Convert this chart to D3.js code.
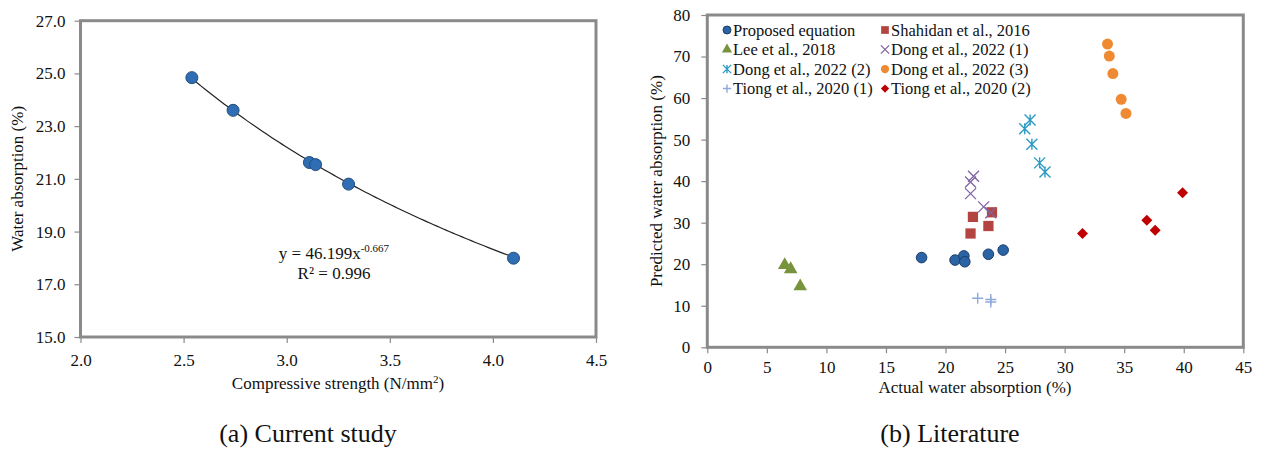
<!DOCTYPE html>
<html>
<head>
<meta charset="utf-8">
<script src="https://cdn.jsdelivr.net/npm/d3@7/dist/d3.min.js"></script>
<style>
  html, body { margin: 0; padding: 0; background: #fff; }
  svg { display: block; }
</style>
</head>
<body>
<svg id="chart" width="1264" height="449"></svg>
<script>
// ---------- Data: (a) Current study ----------
const leftStrength   = [2.54, 2.74, 3.11, 3.14, 3.30, 4.10];
const leftAbsorption = [24.84, 23.60, 21.62, 21.54, 20.80, 17.99];
const trendCoef = 46.199, trendExp = -0.667, trendR2 = 0.996;
const leftYTicks = [15, 17, 19, 21, 23, 25, 27];
const leftXTicks = [2.0, 2.5, 3.0, 3.5, 4.0, 4.5];

// ---------- Data: (b) Literature ----------
const proposedX = [17.99, 20.80, 21.54, 21.62, 23.60, 24.84];
const proposedY = [21.6, 21.0, 22.0, 20.6, 22.4, 23.4];
const shahidanX = [22.3, 23.6, 23.9, 22.1];
const shahidanY = [31.4, 29.2, 32.5, 27.4];
const leeX = [6.5, 7.0, 7.8];
const leeY = [19.8, 18.8, 14.7];
const dong1X = [22.35, 22.1, 22.1, 23.2, 23.8];
const dong1Y = [41.2, 39.8, 37.0, 33.8, 32.4];
const dong2X = [27.1, 26.65, 27.25, 27.9, 28.35];
const dong2Y = [54.7, 52.6, 48.9, 44.4, 42.2];
const dong3X = [33.6, 33.75, 34.05, 34.75, 35.15];
const dong3Y = [73.0, 70.1, 65.9, 59.7, 56.3];
const tiong1X = [22.7, 23.8, 23.8];
const tiong1Y = [11.8, 11.5, 10.9];
const tiong2X = [31.5, 36.9, 37.6, 39.9];
const tiong2Y = [27.4, 30.6, 28.2, 37.2];
const rightYTicks = [0, 10, 20, 30, 40, 50, 60, 70, 80];
const rightXTicks = [0, 5, 10, 15, 20, 25, 30, 35, 40, 45];

const seriesNames = ["Proposed equation", "Shahidan et al., 2016", "Lee et al., 2018",
  "Dong et al., 2022 (1)", "Dong et al., 2022 (2)", "Dong et al., 2022 (3)",
  "Tiong et al., 2020 (1)", "Tiong et al., 2020 (2)"];

const svg = d3.select("#chart");
const FRAME = "#8a8a8a";
const FONT = "Liberation Serif";
const TXT = "#111";

function txt(g, x, y, size, anchor) {
  return g.append("text").attr("x", x).attr("y", y)
    .attr("text-anchor", anchor || "start")
    .style("font-family", FONT).style("font-size", size + "px").style("fill", TXT);
}

// ---------- helper: marker drawing ----------
function drawMarker(g, type, x, y, s) {
  switch (type) {
    case "circleBlue":
      g.append("circle").attr("cx", x).attr("cy", y).attr("r", 5.3 * s)
        .attr("fill", "#2c63a4").attr("stroke", "#1b3e6a").attr("stroke-width", 1); break;
    case "square":
      g.append("path").attr("transform", `translate(${x},${y})`)
        .attr("d", d3.symbol(d3.symbolSquare, 105 * s * s)()).attr("fill", "#b3443f"); break;
    case "triangle":
      g.append("path").attr("transform", `translate(${x},${y})`)
        .attr("d", d3.symbol(d3.symbolTriangle, 80 * s * s)()).attr("fill", "#77933c"); break;
    case "xmark": {
      const r = 5.5 * s;
      g.append("path").attr("d", `M${x - r},${y - r}L${x + r},${y + r}M${x - r},${y + r}L${x + r},${y - r}`)
        .attr("stroke", "#8064a2").attr("stroke-width", 1.3).attr("fill", "none"); break; }
    case "star": {
      const r = 5.5 * s;
      g.append("path").attr("d", `M${x - r},${y - r}L${x + r},${y + r}M${x - r},${y + r}L${x + r},${y - r}M${x},${y - r}L${x},${y + r}`)
        .attr("stroke", "#2c9ac4").attr("stroke-width", 1.4).attr("fill", "none"); break; }
    case "circleOrange":
      g.append("circle").attr("cx", x).attr("cy", y).attr("r", 5.5 * s).attr("fill", "#ef8a33"); break;
    case "plus": {
      const r = 5.5 * s;
      g.append("path").attr("d", `M${x - r},${y}L${x + r},${y}M${x},${y - r}L${x},${y + r}`)
        .attr("stroke", "#8eaadc").attr("stroke-width", 1.4).attr("fill", "none"); break; }
    case "diamond": {
      const r = 5.5 * s;
      g.append("path").attr("d", `M${x},${y - r}L${x + r},${y}L${x},${y + r}L${x - r},${y}Z`)
        .attr("fill", "#c00000"); break; }
  }
}

function styleAxis(g) {
  g.select(".domain").remove();
  g.selectAll(".tick line").attr("stroke", FRAME).attr("stroke-width", 1.2);
  g.selectAll(".tick text").style("font-family", FONT).style("font-size", "17px").style("fill", TXT);
}

// ================= (a) Current study =================
const xL = d3.scaleLinear().domain([2, 4.5]).range([80.5, 596]);
const yL = d3.scaleLinear().domain([15, 27]).range([337, 20.7]);

const gL = svg.append("g");
gL.append("g").attr("transform", "translate(80.5,0)")
  .call(d3.axisLeft(yL).tickValues(leftYTicks).tickFormat(d3.format(".1f")).tickSize(6).tickPadding(9))
  .call(styleAxis);
gL.append("g").attr("transform", "translate(0,337)")
  .call(d3.axisBottom(xL).tickValues(leftXTicks).tickFormat(d3.format(".1f")).tickSize(6).tickPadding(11))
  .call(styleAxis);
gL.append("rect").attr("x", 80.5).attr("y", 20.7).attr("width", 596 - 80.5).attr("height", 337 - 20.7)
  .attr("fill", "none").attr("stroke", FRAME).attr("stroke-width", 3);

// trendline of the displayed power-law fit, over the data range
const tMin = d3.min(leftStrength), tMax = d3.max(leftStrength);
const trendPts = d3.range(0, 101).map(i => {
  const xv = tMin + (tMax - tMin) * i / 100;
  return [xv, trendCoef * Math.pow(xv, trendExp)];
});
gL.append("path").datum(trendPts)
  .attr("d", d3.line().x(d => xL(d[0])).y(d => yL(d[1])))
  .attr("fill", "none").attr("stroke", "#222").attr("stroke-width", 1.2);

gL.selectAll("circle.pt").data(leftStrength.map((v, i) => [v, leftAbsorption[i]])).join("circle")
  .attr("class", "pt").attr("cx", d => xL(d[0])).attr("cy", d => yL(d[1])).attr("r", 6)
  .attr("fill", "#2f6db5").attr("stroke", "#1f4e79").attr("stroke-width", 1);

const eq = txt(gL, 334, 259, 17, "middle");
eq.append("tspan").text("y = " + trendCoef.toFixed(3) + "x");
eq.append("tspan").attr("dy", -7).style("font-size", "11px").text(trendExp.toFixed(3));
txt(gL, 334, 279, 17, "middle").text("R\u00B2 = " + trendR2.toFixed(3));

const xtL = txt(gL, 338, 389, 17, "middle");
xtL.append("tspan").text("Compressive strength (N/mm");
xtL.append("tspan").attr("dy", -6).style("font-size", "11px").text("2");
xtL.append("tspan").attr("dy", 6).text(")");

txt(gL, 0, 0, 17, "middle").attr("transform", `translate(23,${(20.7 + 337) / 2}) rotate(-90)`)
  .text("Water absorption (%)");

txt(gL, 308, 442, 26, "middle").text("(a) Current study");

// ================= (b) Literature =================
const xR = d3.scaleLinear().domain([0, 45]).range([707.3, 1243.3]);
const yR = d3.scaleLinear().domain([0, 80]).range([347.3, 15]);

const gR = svg.append("g");
gR.append("g").attr("transform", "translate(707.3,0)")
  .call(d3.axisLeft(yR).tickValues(rightYTicks).tickFormat(d3.format("d")).tickSize(6).tickPadding(11))
  .call(styleAxis);
gR.append("g").attr("transform", "translate(0,347.3)")
  .call(d3.axisBottom(xR).tickValues(rightXTicks).tickFormat(d3.format("d")).tickSize(6).tickPadding(8))
  .call(styleAxis);
gR.append("rect").attr("x", 707.3).attr("y", 15).attr("width", 1243.3 - 707.3).attr("height", 347.3 - 15)
  .attr("fill", "none").attr("stroke", FRAME).attr("stroke-width", 3);

const series = [
  { name: seriesNames[0], type: "circleBlue",   xs: proposedX, ys: proposedY },
  { name: seriesNames[1], type: "square",       xs: shahidanX, ys: shahidanY },
  { name: seriesNames[2], type: "triangle",     xs: leeX,      ys: leeY },
  { name: seriesNames[3], type: "xmark",        xs: dong1X,    ys: dong1Y },
  { name: seriesNames[4], type: "star",         xs: dong2X,    ys: dong2Y },
  { name: seriesNames[5], type: "circleOrange", xs: dong3X,    ys: dong3Y },
  { name: seriesNames[6], type: "plus",         xs: tiong1X,   ys: tiong1Y },
  { name: seriesNames[7], type: "diamond",      xs: tiong2X,   ys: tiong2Y }
];

const gPts = gR.append("g");
series.forEach(s => {
  s.xs.forEach((xv, i) => drawMarker(gPts, s.type, xR(xv), yR(s.ys[i]), 1));
});

// legend
const gLeg = gR.append("g");
series.forEach((s, i) => {
  const col = i % 2, row = Math.floor(i / 2);
  const mx = col === 0 ? 727 : 885;
  const my = 30 + row * 19.5;
  drawMarker(gLeg, s.type, mx, my, 0.75);
  txt(gLeg, mx + 6, my + 5.5, 16.5).text(s.name);
});

txt(gR, 975, 393, 17, "middle").text("Actual water absorption (%)");
txt(gR, 0, 0, 17, "middle").attr("transform", `translate(662,${(15 + 347.3) / 2}) rotate(-90)`)
  .text("Predicted water absorption (%)");

txt(gR, 950, 442, 26, "middle").text("(b) Literature");
</script>
</body>
</html>
